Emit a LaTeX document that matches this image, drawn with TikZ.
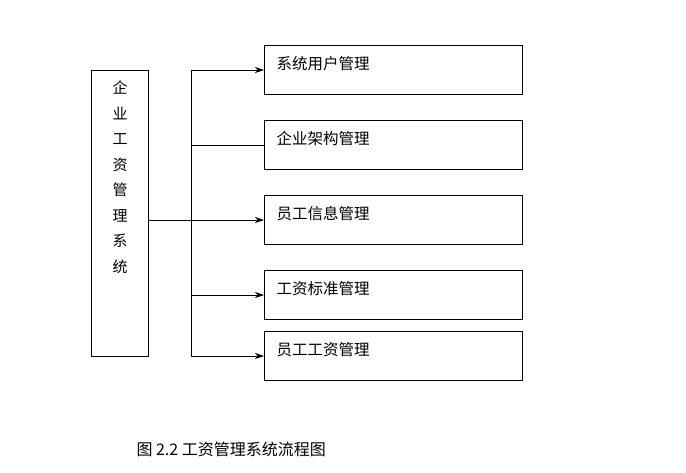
\documentclass[tikz,border=0pt]{standalone}
\usepackage{fontspec}
\newfontfamily\cjk{Noto Sans CJK SC}
\usetikzlibrary{arrows.meta}
\begin{document}
\begin{tikzpicture}[x=1pt,y=-1pt,
  box/.style={draw,line width=0.7pt,minimum width=258pt,minimum height=49pt,anchor=north west,inner sep=0pt},
  lbl/.style={font=\cjk\fontsize{15.5}{17}\selectfont,anchor=west},
  arr/.style={-{Stealth[length=9pt,width=6pt]},line width=0.7pt}]
\useasboundingbox (0,0) rectangle (686,472);
\node[draw,line width=0.7pt,minimum width=57pt,minimum height=286pt,anchor=north west,inner sep=0pt] (L) at (91,70) {};
\node[font=\cjk\fontsize{15}{25.5}\selectfont,align=center] (Lt) at (120,177) {企\\业\\工\\资\\管\\理\\系\\统};
\node[box] (b1) at (264,45) {};
\node[box] (b2) at (264,120) {};
\node[box] (b3) at (264,195) {};
\node[box] (b4) at (264,270) {};
\node[box] (b5) at (264,331) {};
\node[lbl] at (273,64) {系统用户管理};
\node[lbl] at (273,139) {企业架构管理};
\node[lbl] at (273,214) {员工信息管理};
\node[lbl] at (273,289) {工资标准管理};
\node[lbl] at (273,350) {员工工资管理};
\coordinate (t1) at (191,70);
\coordinate (t2) at (191,145);
\coordinate (t3) at (191,220);
\coordinate (t4) at (191,295);
\coordinate (t5) at (191,356);
\coordinate (lo) at (148,220);
\draw[line width=0.7pt] (t1) -- (t5);
\draw[line width=0.7pt] (lo) -- (t3);
\draw[arr] (t1) -- (b1.west |- t1);
\draw[line width=0.7pt] (t2) -- (b2.west |- t2);
\draw[arr] (t3) -- (b3.west |- t3);
\draw[arr] (t4) -- (b4.west |- t4);
\draw[arr] (t5) -- (b5.west |- t5);
\node[font=\cjk\fontsize{16}{18}\selectfont,anchor=west] (cap) at (133,449) {图 2.2 工资管理系统流程图};
\end{tikzpicture}
\end{document}
